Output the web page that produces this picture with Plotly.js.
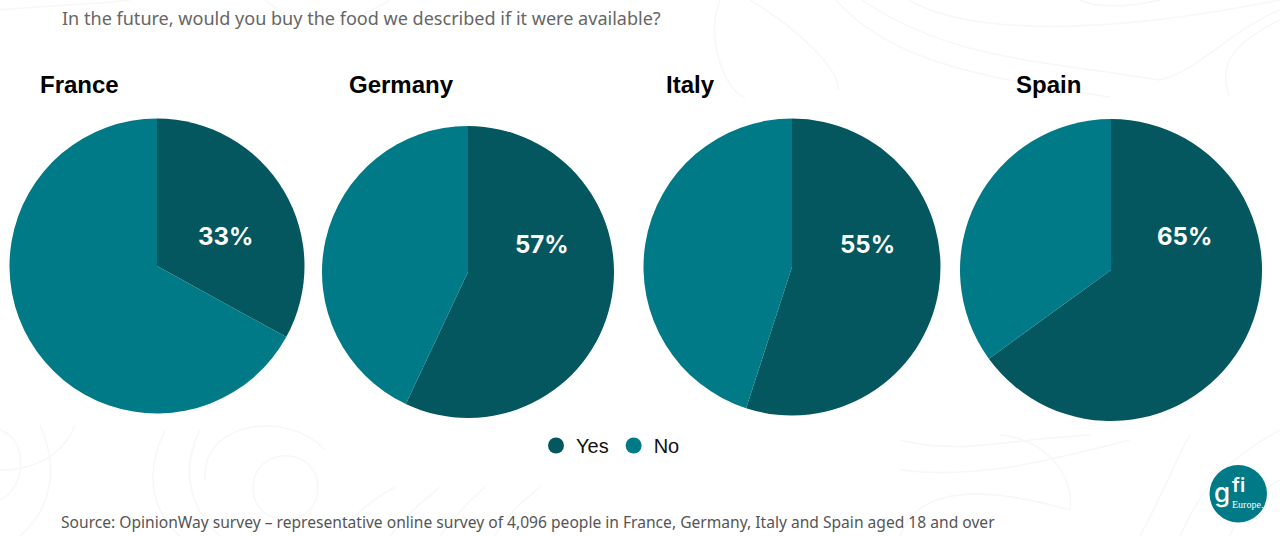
<!DOCTYPE html>
<html><head><meta charset="utf-8">
<script src="https://cdn.plot.ly/plotly-3.0.1.min.js"></script>
<style>html,body{margin:0;padding:0;background:#fff}#c{width:1280px;height:536px}</style></head>
<body><div id="c"></div>
<script>
const countries = ['France','Germany','Italy','Spain'];
const yesValues = [33,57,55,65];
const noValues = [67,43,45,35];
const labels = ['Yes','No'];
const colors = ['#04575f','#007a87'];
const geo = [[157,266,147.5],[468,272,146],[792,267,148.5],[1111,270,151]];
const titleX = [38,347,664,1014];
const titleY = [84,84,84,84];
const pctPos = [[225,236],[542,244],[867,244],[1184,236]];
const W=1280,H=536;
const traces = countries.map((n,i)=>{
  const [cx,cy,r]=geo[i];
  return {type:'pie',name:n,labels:labels,values:[yesValues[i],noValues[i]],sort:false,direction:'clockwise',rotation:0,
    textinfo:'none',hoverinfo:'label+percent',showlegend:false,marker:{colors:colors,line:{width:0}},
    domain:{x:[(cx-r)/W,(cx+r)/W],y:[1-(cy+r)/H,1-(cy-r)/H]}};
});
labels.forEach((l,i)=>traces.push({type:'scatter',mode:'markers',name:l,x:[null],y:[null],marker:{symbol:'circle',size:16,color:colors[i]},showlegend:true}));
const T=(text,x,y,size,color,weight,family,anchor)=>({text:text,xref:'paper',yref:'paper',x:x/W,y:1-y/H,xanchor:anchor||'left',yanchor:'middle',showarrow:false,
  font:{size:size,color:color,weight:weight||400,family:family}});
const sans='"Liberation Sans",Arial,sans-serif', plex='"Noto Sans",sans-serif', inter='Inter,sans-serif';
const ann=[T('In the future, would you buy the food we described if it were available?',60,18.5,18.06,'#666666',400,plex),
 T('Source: OpinionWay survey – representative online survey of 4,096 people in France, Germany, Italy and Spain aged 18 and over',59,521.5,15.6,'#555555',400,plex),
 T('g',1222,492,26,'#ffffff',500,inter,'center'),
 T('fi',1238,485,20,'#ffffff',600,inter,'center'),
 T('Europe.',1247,504.5,10,'#ffffff',400,'"Liberation Serif",serif','center')];
countries.forEach((n,i)=>{
  ann.push(T(n,titleX[i],titleY[i],24,'#000000',700,sans));
  ann.push(T(yesValues[i]+'%',pctPos[i][0],pctPos[i][1],24,'#ffffff',700,inter,'center'));
});
const sx=x=>(x/W).toFixed(4), sy=y=>(1-y/H).toFixed(4);
const P=pts=>{let d='M'+sx(pts[0])+','+sy(pts[1])+' C';for(let k=2;k<pts.length;k+=2)d+=sx(pts[k])+','+sy(pts[k+1])+' ';return d;};
const contour=a=>({type:'path',xref:'paper',yref:'paper',path:P(a),line:{color:'#f6f7f7',width:1.5},layer:'below'});
const curves=[
 [0,10,50,5,90,5,130,0],[265,0,300,30,340,30,390,0],
 [720,0,705,40,725,90,745,98],[750,0,800,30,840,70,838,90],
 [836,0,880,50,950,75,1110,97],[862,0,950,60,1040,60,1160,80],[1160,80,1200,70,1230,30,1280,10],
 [909,0,960,30,1080,40,1280,0],[1080,0,1100,10,1140,5,1160,0],
 [1230,97,1215,60,1240,40,1280,20],
 [0,430,30,440,25,490,0,500],[0,470,50,470,70,440,75,425],[40,425,60,470,50,510,20,536],
 [165,430,145,470,150,510,180,536],[200,430,180,470,190,510,220,536],
 [253,488,253,445,318,445,318,488],[253,488,253,530,318,530,318,488],
 [325,450,290,410,200,420,205,480],
 [340,530,360,510,380,495,395,487],[390,536,410,510,425,500,440,487],[440,536,455,515,470,500,485,487],[495,536,510,510,525,500,540,487],
 [900,440,960,455,1000,440,1090,435],[900,470,980,480,1050,460,1130,440],
 [900,536,920,480,1000,490,1070,510],[1070,510,1075,480,1050,440,1000,435],
 [1140,536,1165,490,1180,450,1190,435],[1180,536,1200,490,1225,460,1280,430],[1230,536,1240,510,1260,490,1280,480]
];
const shapes=curves.map(contour);
shapes.push({type:'circle',xref:'paper',yref:'paper',x0:1209.5/W,x1:1267/W,y0:1-522.5/H,y1:1-465/H,fillcolor:'#007a87',line:{width:0}});
Plotly.newPlot('c',traces,{width:W,height:H,margin:{l:0,r:0,t:0,b:0},paper_bgcolor:'#ffffff',plot_bgcolor:'rgba(0,0,0,0)',
  xaxis:{visible:false},yaxis:{visible:false},
  legend:{orientation:'h',x:610.5/W,xanchor:'center',y:1-445.5/H,yanchor:'middle',font:{family:sans,size:20,color:'#111111'},bgcolor:'rgba(0,0,0,0)'},
  annotations:ann,shapes:shapes},{displayModeBar:false});
</script></body></html>
